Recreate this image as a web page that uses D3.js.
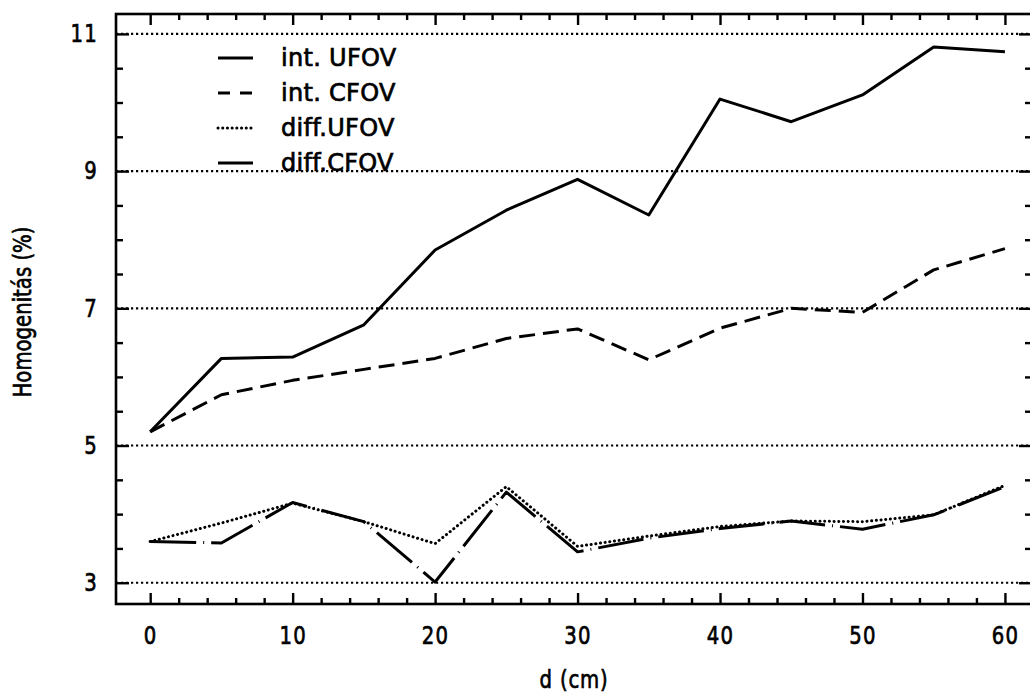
<!DOCTYPE html>
<html>
<head>
<meta charset="utf-8">
<script src="https://cdn.jsdelivr.net/npm/d3@7"></script>
<style>
  html, body { margin: 0; padding: 0; background: #fff; }
  svg { display: block; }
  text { font-family: "DejaVu Sans", sans-serif; fill: #000; stroke: #000; stroke-width: 0.7px; }
</style>
</head>
<body>
<svg id="chart" width="1030" height="694"></svg>
<script>
// Distance from collimator (cm)
const distances = [0, 5, 10, 15, 20, 25, 30, 35, 40, 45, 50, 55, 60];

// Uniformity values (%)
const intUFOV  = [5.20, 6.27, 6.29, 6.76, 7.85, 8.43, 8.88, 8.36, 10.05, 9.72, 10.11, 10.81, 10.74];
const intCFOV  = [5.20, 5.74, 5.95, 6.11, 6.27, 6.56, 6.70, 6.25, 6.71, 7.00, 6.94, 7.56, 7.87];
const diffUFOV = [3.60, 3.87, 4.16, 3.89, 3.57, 4.40, 3.53, 3.68, 3.82, 3.90, 3.89, 3.99, 4.42];
const diffCFOV = [3.60, 3.58, 4.17, 3.89, 3.01, 4.32, 3.45, 3.65, 3.79, 3.90, 3.78, 3.99, 4.40];

const seriesNames = ["int. UFOV", "int. CFOV", "diff.UFOV", "diff.CFOV"];

// Axis ticks
const xMajorTicks = [0, 10, 20, 30, 40, 50, 60];
const xMinorTicks = d3.range(0, 61, 2).filter(v => v % 10 !== 0);
const yMajorTicks = [3, 5, 7, 9, 11];
const yMinorTicks = d3.range(3, 11.01, 0.5).filter(v => v % 2 !== 1);

const xTitle = "d (cm)";
const yTitle = "Homogenitás (%)";

// ---- layout ----
const plotLeft = 116, plotRight = 1032, plotTop = 14, plotBottom = 604;
const svg = d3.select("#chart");

const x = d3.scaleLinear().domain([-2.4, 61.9]).range([plotLeft, plotRight]);
const y = d3.scaleLinear().domain([2.69, 11.29]).range([plotBottom, plotTop]);

const squeeze = "scale(0.82,1)";

// dotted horizontal grid at the major values
svg.append("g").selectAll("line").data(yMajorTicks).join("line")
  .attr("x1", plotLeft).attr("x2", plotRight)
  .attr("y1", d => y(d)).attr("y2", d => y(d))
  .attr("stroke", "#000").attr("stroke-width", 2.2)
  .attr("stroke-dasharray", "2.2,2.8");

// ---- axes (ticks pointing inward) ----
function styleAxis(g) {
  g.select(".domain").remove();
  g.selectAll(".tick line").attr("stroke", "#000").attr("stroke-width", 2.4);
}

// bottom
svg.append("g").attr("transform", `translate(0,${plotBottom})`)
  .call(d3.axisBottom(x).tickValues(xMinorTicks).tickSize(-6).tickSizeOuter(0).tickFormat(""))
  .call(styleAxis);
svg.append("g").attr("transform", `translate(0,${plotBottom})`)
  .call(d3.axisBottom(x).tickValues(xMajorTicks).tickSize(-11).tickSizeOuter(0).tickPadding(23))
  .call(styleAxis)
  .call(g => g.selectAll(".tick text").attr("font-size", 24).attr("transform", squeeze)
        .attr("font-family", "DejaVu Sans").attr("letter-spacing", "1.5px"));

// top
svg.append("g").attr("transform", `translate(0,${plotTop})`)
  .call(d3.axisTop(x).tickValues(xMinorTicks).tickSize(-6).tickSizeOuter(0).tickFormat(""))
  .call(styleAxis);
svg.append("g").attr("transform", `translate(0,${plotTop})`)
  .call(d3.axisTop(x).tickValues(xMajorTicks).tickSize(-11).tickSizeOuter(0).tickFormat(""))
  .call(styleAxis);

// left
svg.append("g").attr("transform", `translate(${plotLeft},0)`)
  .call(d3.axisLeft(y).tickValues(yMinorTicks).tickSize(-7).tickSizeOuter(0).tickFormat(""))
  .call(styleAxis);
svg.append("g").attr("transform", `translate(${plotLeft},0)`)
  .call(d3.axisLeft(y).tickValues(yMajorTicks).tickSize(-13).tickSizeOuter(0).tickPadding(22))
  .call(styleAxis)
  .call(g => g.selectAll(".tick text").attr("font-size", 24).attr("transform", squeeze)
        .attr("font-family", "DejaVu Sans").attr("letter-spacing", "1.5px"));

// right
svg.append("g").attr("transform", `translate(${plotRight},0)`)
  .call(d3.axisRight(y).tickValues(yMinorTicks).tickSize(-7).tickSizeOuter(0).tickFormat(""))
  .call(styleAxis);
svg.append("g").attr("transform", `translate(${plotRight},0)`)
  .call(d3.axisRight(y).tickValues(yMajorTicks).tickSize(-13).tickSizeOuter(0).tickFormat(""))
  .call(styleAxis);

// frame
svg.append("rect")
  .attr("x", plotLeft).attr("y", plotTop)
  .attr("width", plotRight - plotLeft).attr("height", plotBottom - plotTop)
  .attr("fill", "none").attr("stroke", "#000").attr("stroke-width", 2.6);

// ---- series ----
const styles = [
  { values: intUFOV,  dash: null,          width: 3, cap: "butt" },
  { values: intCFOV,  dash: "16,8",        width: 3, cap: "butt" },
  { values: diffUFOV, dash: "0.1,4.6",     width: 3, cap: "round" },
  { values: diffCFOV, dash: "46,7,1,7",    width: 3, cap: "butt" }
];

const line = d3.line()
  .x(d => x(d[0]))
  .y(d => y(d[1]));

styles.forEach(s => {
  svg.append("path")
    .datum(distances.map((d, i) => [d, s.values[i]]))
    .attr("d", line)
    .attr("fill", "none")
    .attr("stroke", "#000")
    .attr("stroke-width", s.width)
    .attr("stroke-linecap", s.cap)
    .attr("stroke-linejoin", "round")
    .attr("stroke-dasharray", s.dash);
});

// ---- legend ----
const legendDash = [null, "12,10", "0.1,4.6", null];
const legend = svg.append("g");
seriesNames.forEach((name, i) => {
  const yy = 58 + i * 35;
  legend.append("line")
    .attr("x1", 218).attr("x2", 253)
    .attr("y1", yy).attr("y2", yy)
    .attr("stroke", "#000").attr("stroke-width", 3)
    .attr("stroke-linecap", styles[i].cap)
    .attr("stroke-dasharray", legendDash[i]);
  legend.append("text")
    .attr("x", 281).attr("y", yy + 8)
    .attr("font-size", 24)
    .attr("letter-spacing", "0.3px")
    .text(name);
});

// ---- axis titles ----
svg.append("text")
  .attr("transform", `translate(${(plotLeft + plotRight) / 2},688) ${squeeze}`)
  .attr("text-anchor", "middle")
  .attr("font-size", 24)
  .attr("letter-spacing", "1px")
  .text(xTitle);

svg.append("text")
  .attr("transform", `translate(31,312) rotate(-90) ${squeeze}`)
  .attr("text-anchor", "middle")
  .attr("font-size", 24)
  .text(yTitle);
</script>
</body>
</html>
